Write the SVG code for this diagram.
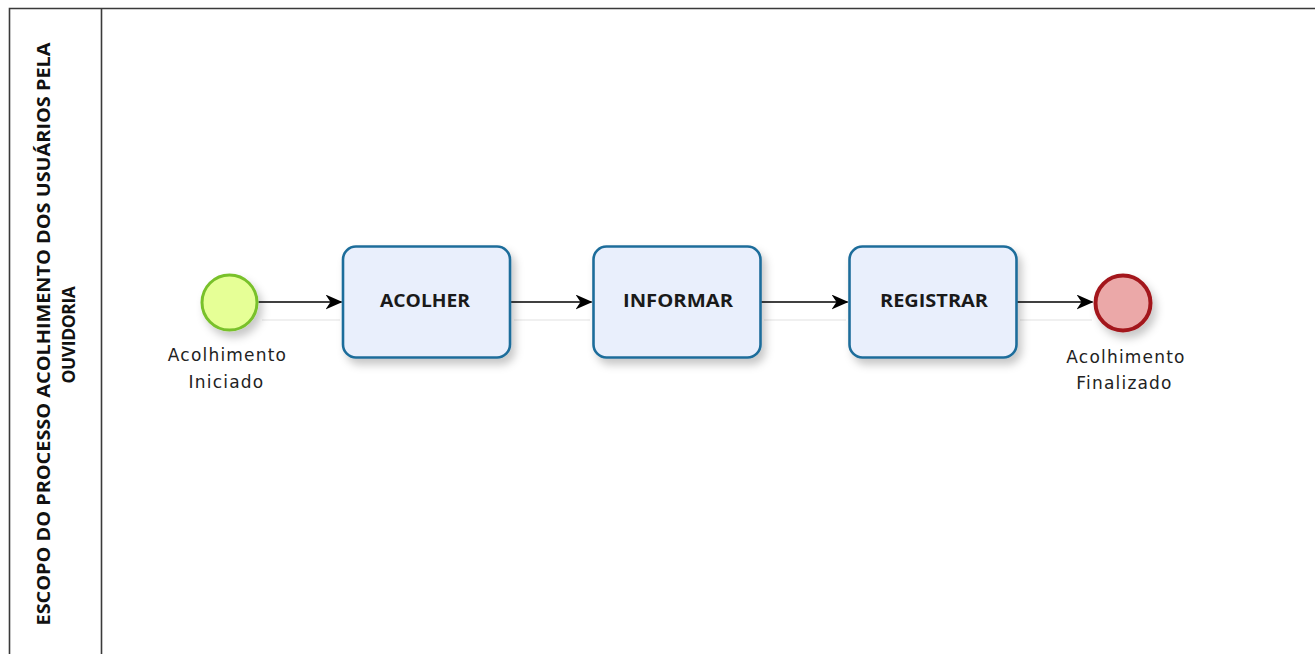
<svg xmlns="http://www.w3.org/2000/svg" width="1315" height="654" viewBox="0 0 1315 654">
<style>
.pool{fill:none;stroke:#3a3a3a;stroke-width:1.6}
.hdr{font-family:"Open Sans","Liberation Sans",sans-serif;font-weight:bold;font-size:17.5px;fill:#111}
.task rect{fill:#e9effc;stroke:#1f6d9b;stroke-width:2.6}
.tlabel{font-family:"Open Sans","Liberation Sans",sans-serif;font-weight:bold;font-size:17.5px;fill:#1a1a1a;text-anchor:middle}
.elabel{font-family:"DejaVu Sans","Liberation Sans",sans-serif;font-size:17px;letter-spacing:1.2px;fill:#222;text-anchor:middle}
.flow{stroke:#000;stroke-width:1.6;fill:none;marker-end:url(#arr)}
.flowshadow{stroke:#f0f0f0;stroke-width:2;fill:none}
</style>
<defs>
<filter id="sh" x="-20%" y="-20%" width="150%" height="160%">
<feDropShadow dx="4" dy="6" stdDeviation="4" flood-color="#000" flood-opacity="0.22"/>
</filter>
<marker id="arr" markerUnits="userSpaceOnUse" markerWidth="17" markerHeight="15" viewBox="0 0 17 15" refX="16" refY="7.5" orient="auto">
<path d="M0,0 L17,7.5 L0,15 L5,7.5 z" fill="#000"/>
</marker>
</defs>
<rect width="1315" height="654" fill="#fff"/>
<g id="pool">
<path class="pool" d="M1315,8.5 H9.5 V654 M101.5,8.5 V654"/>
<text class="hdr" transform="translate(50,334) rotate(-90)" text-anchor="middle" textLength="583" lengthAdjust="spacingAndGlyphs">ESCOPO DO PROCESSO ACOLHIMENTO DOS USUÁRIOS PELA</text>
<text class="hdr" transform="translate(75,335) rotate(-90)" text-anchor="middle" letter-spacing="-0.4">OUVIDORIA</text>
</g>
<g id="connectors">
<path class="flowshadow" d="M262,320 H340 M514,320 H590 M764,320 H846 M1020,320 H1092"/>
<path class="flow" d="M258.5,302 H341.5"/>
<path class="flow" d="M511,302 H591.5"/>
<path class="flow" d="M761,302 H847.5"/>
<path class="flow" d="M1017,302 H1092.5"/>
</g>
<g id="start">
<circle cx="229.5" cy="302.5" r="27.5" fill="#e6ff96" stroke="#79c12c" stroke-width="3" filter="url(#sh)"/>
<text class="elabel" x="227.5" y="361">Acolhimento</text>
<text class="elabel" x="226.5" y="388">Iniciado</text>
</g>
<g id="acolher" class="task">
<rect x="343" y="246.5" width="167" height="111" rx="13" filter="url(#sh)"/>
<text class="tlabel" x="425" y="307" textLength="90" lengthAdjust="spacingAndGlyphs">ACOLHER</text>
</g>
<g id="informar" class="task">
<rect x="593.5" y="246.5" width="167" height="111" rx="13" filter="url(#sh)"/>
<text class="tlabel" x="678" y="307" textLength="110" lengthAdjust="spacingAndGlyphs">INFORMAR</text>
</g>
<g id="registrar" class="task">
<rect x="849.5" y="246.5" width="167" height="111" rx="13" filter="url(#sh)"/>
<text class="tlabel" x="934" y="307" textLength="108" lengthAdjust="spacingAndGlyphs">REGISTRAR</text>
</g>
<g id="end">
<circle cx="1123" cy="303" r="27.5" fill="#eba8a8" stroke="#a3181b" stroke-width="4" filter="url(#sh)"/>
<text class="elabel" x="1126" y="363">Acolhimento</text>
<text class="elabel" x="1124.5" y="389">Finalizado</text>
</g>
</svg>
